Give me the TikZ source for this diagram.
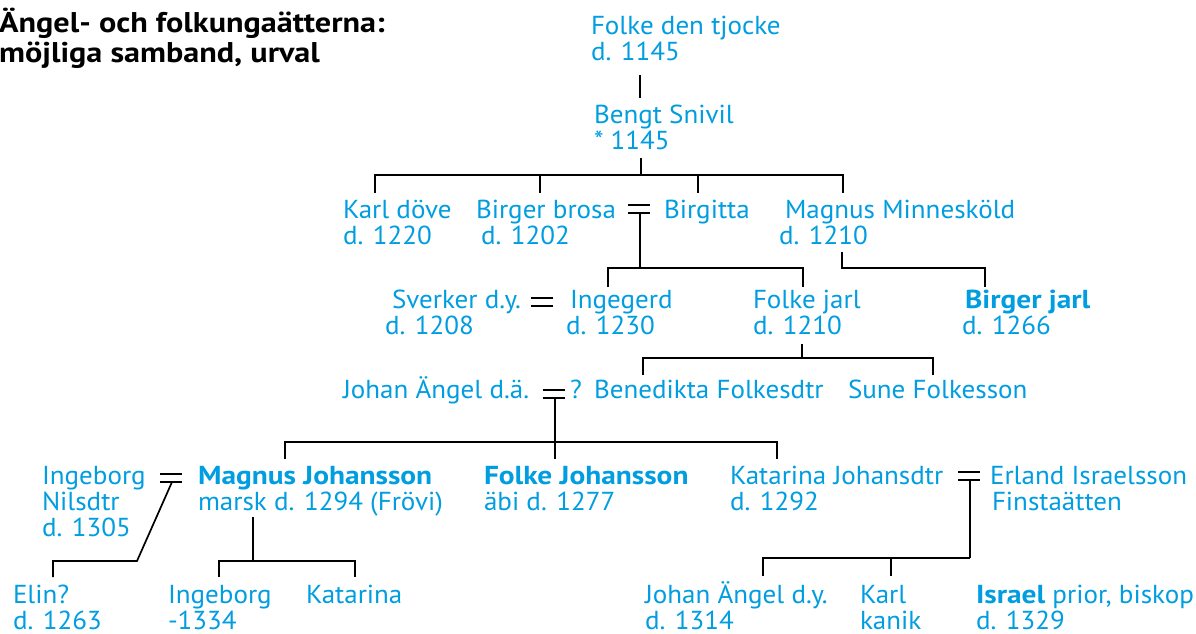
\documentclass[tikz,border=0pt]{standalone}
\usepackage{fontspec}
\setmainfont{PT Sans}[FakeStretch=1.04, BoldFeatures={FakeStretch=1.13}]
\definecolor{cy}{RGB}{0,157,224}
\newcommand\twol[2]{\vtop{\hbox{#1}\hbox{#2}}}
\newcommand\threel[3]{\vtop{\hbox{#1}\hbox{#2}\hbox{#3}}}
\tikzset{
  person/.style={anchor=base west, inner sep=0pt, outer sep=0pt, text=cy, font=\fontsize{26}{26}\selectfont},
  boldperson/.style={person, font=\fontsize{26}{26}\selectfont\bfseries},
  titlestyle/.style={anchor=base west, inner sep=0pt, text=black, font=\fontsize{28.5}{30}\selectfont\bfseries},
  line/.style={line width=1.7pt, black},
  marriage/.pic={\draw[line] (-11,-4) -- (11,-4) (-11,4) -- (11,4);}
}
\begin{document}
\begin{tikzpicture}[x=1pt,y=-1pt]
\useasboundingbox (0,0) rectangle (1196,634);

\node[titlestyle] (title) at (-1,33) {\vtop{\hbox{Ängel- och folkungaätterna:}\hbox{möjliga samband, urval}}};

% generation 1-2
\node[person] (folke) at (591,35) {\twol{Folke den tjocke}{d. 1145}};
\node[person] (bengt) at (594,123) {\twol{Bengt Snivil}{* 1145}};

% generation 3
\node[person] (karl) at (343,218) {\twol{Karl döve}{d. 1220}};
\node[person] (birgerb) at (476,218) {\twol{Birger brosa}{\kern5pt d. 1202}};
\node[person] (birgitta) at (664,218) {Birgitta};
\node[person] (magnusm) at (785,218) {\twol{Magnus Minnesköld}{\kern-6pt d. 1210}};

% generation 4
\node[person] (sverker) at (392,308) {\twol{Sverker d.y.}{\kern-7pt d. 1208}};
\node[person] (ingegerd) at (570,308) {\twol{Ingegerd}{\kern-4pt d. 1230}};
\node[person] (folkej) at (753,308) {\twol{Folke jarl}{d. 1210}};
\node[boldperson] (birgerj) at (965,308) {\twol{Birger jarl}{\kern-3pt\mdseries d. 1266}};

% generation 5
\node[person] (johan) at (343,398) {Johan Ängel d.ä.};
\node[person] (quest) at (570,398) {?};
\node[person] (benedikta) at (594,398) {Benedikta Folkesdtr};
\node[person] (sune) at (848,398) {Sune Folkesson};

% generation 6
\node[person] (ingeborgn) at (42,484) {\threel{Ingeborg}{Nilsdtr}{d. 1305}};
\node[person] (magnusj) at (198,484) {\twol{\bfseries Magnus Johansson}{marsk d. 1294 (Frövi)}};
\node[person] (folkejoh) at (484,484) {\twol{\bfseries Folke Johansson}{äbi d. 1277}};
\node[person] (katarinaj) at (730,484) {\twol{Katarina Johansdtr}{d. 1292}};
\node[person] (erland) at (990,484) {\twol{Erland Israelsson}{\kern2pt Finstaätten}};

% generation 7
\node[person] (elin) at (13,603) {\twol{Elin?}{d. 1263}};
\node[person] (ingeborg2) at (168,603) {\twol{Ingeborg}{-1334}};
\node[person] (katarina2) at (306,603) {Katarina};
\node[person] (johan2) at (645,603) {\twol{Johan Ängel d.y.}{d. 1314}};
\node[person] (karl2) at (860,603) {\twol{Karl}{kanik}};
\node[person] (israel) at (976,603) {\twol{\textbf{Israel} prior, biskop}{d. 1329}};

% marriage signs
\pic (m1) at (639,209) {marriage};
\pic (m2) at (542,302) {marriage};
\pic (m3) at (554,394) {marriage};
\pic (m4) at (171,478) {marriage};
\pic (m5) at (969,476) {marriage};

% junction coordinates
\coordinate (folke-b) at (640,75);
\coordinate (bengt-t) at (640,98);
\coordinate (bengt-b) at (641,158);
\coordinate (g3bar) at (641,175);
\coordinate (karl-t) at (375,193);
\coordinate (birgerb-t) at (540,193);
\coordinate (birgitta-t) at (698,193);
\coordinate (magnusm-t) at (843,193);

\coordinate (m1-b) at (640,213);
\coordinate (g4bar) at (640,268);
\coordinate (ingegerd-t) at (608,287);
\coordinate (folkej-t) at (803,287);
\coordinate (magnusm-b) at (842,252);
\coordinate (birgerj-t) at (985,287);

\coordinate (folkej-b) at (802,344);
\coordinate (benedikta-t) at (643,375);
\coordinate (sune-t) at (933,375);

\coordinate (m3-b) at (555,398);
\coordinate (g6bar) at (555,442);
\coordinate (magnusj-t) at (285,459);
\coordinate (folkejoh-t) at (555,459);
\coordinate (katarinaj-t) at (777,459);

\coordinate (m4-b) at (172,482);
\coordinate (elin-k) at (137,561);
\coordinate (elin-t) at (53,577);
\coordinate (magnusj-b) at (253,517);
\coordinate (g7bar) at (253,561);
\coordinate (ingeborg2-t) at (219,577);
\coordinate (katarina2-t) at (355,577);

\coordinate (m5-b) at (970,480);
\coordinate (g7bbar) at (970,558);
\coordinate (johan2-t) at (763,576);
\coordinate (karl2-t) at (891,576);

% connectors
\draw[line] (folke-b) -- (bengt-t);
\draw[line] (bengt-b) -- (g3bar);
\draw[line] (karl-t) |- (g3bar) -| (magnusm-t);
\draw[line] (birgerb-t) -- (birgerb-t |- g3bar);
\draw[line] (birgitta-t) -- (birgitta-t |- g3bar);

\draw[line] (m1-b) -- (g4bar);
\draw[line] (ingegerd-t) |- (g4bar) -| (folkej-t);
\draw[line] (magnusm-b) |- (birgerj-t |- g4bar) -- (birgerj-t);

\draw[line] (folkej-b) -- (folkej-b |- 0,358);
\draw[line] (benedikta-t) |- (folkej-b |- 0,358) -| (sune-t);

\draw[line] (m3-b) -- (g6bar);
\draw[line] (magnusj-t) |- (g6bar) -| (katarinaj-t);
\draw[line] (folkejoh-t) -- (g6bar);

\draw[line] (m4-b) -- (elin-k) -| (elin-t);
\draw[line] (magnusj-b) -- (g7bar);
\draw[line] (ingeborg2-t) |- (g7bar) -| (katarina2-t);

\draw[line] (m5-b) -- (g7bbar);
\draw[line] (johan2-t) |- (g7bbar);
\draw[line] (karl2-t) -- (karl2-t |- g7bbar);
\end{tikzpicture}
\end{document}
